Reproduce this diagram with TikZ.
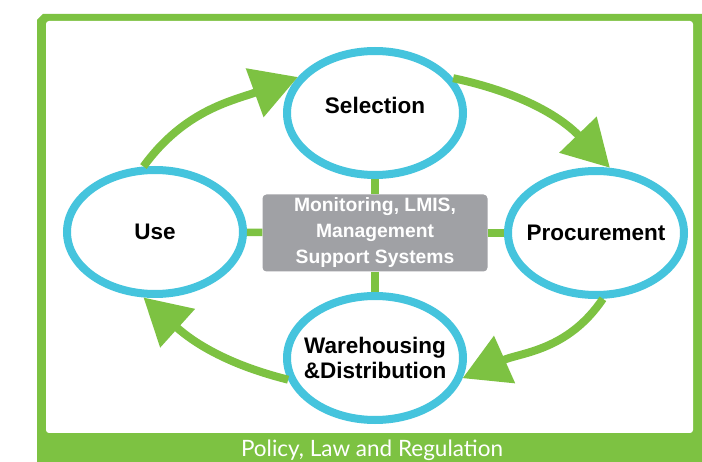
\documentclass[tikz,border=0pt]{standalone}
\usepackage{fontspec}
\setmainfont{Liberation Sans}
\newfontfamily\bandfont{Lato}
\usetikzlibrary{arrows.meta,shapes.geometric}

\definecolor{leaf}{RGB}{125,194,66}
\definecolor{sky}{RGB}{69,196,221}
\definecolor{slate}{RGB}{160,161,165}

\begin{document}
\begin{tikzpicture}[x=1pt, y=1pt, >={Triangle[length=46pt,width=50pt]},
  phase/.style={shape=ellipse, draw=sky, line width=8pt, fill=white,
    minimum width=176pt, minimum height=124pt, inner sep=-10pt, align=center,
    font=\fontsize{22.5}{25}\selectfont\bfseries},
  link/.style={draw=leaf, line width=7.5pt},
  flow/.style={draw=leaf, line width=8pt, ->}]

  \useasboundingbox (0,0) rectangle (702,-462);
  \fill [leaf] (37,-20) -- (43,-14) -- (702,-14) -- (702,-462) -- (37,-462) -- cycle;
  \fill [white, rounded corners=3pt] (46,-21) rectangle (693,-433);

  \node (sel) at (375,-113) [phase, text depth=16pt] {Selection};
  \node (use) at (155,-232) [phase] {Use};
  \node (proc) at (596,-233) [phase] {Procurement};
  \node (ware) at (375,-358) [phase] {Warehousing\\\&Distribution};
  \node (mon) at (375,-233) [shape=rectangle, rounded corners=4pt, fill=slate, text=white,
    minimum width=225pt, minimum height=77pt, inner sep=0pt, align=center,
    font=\fontsize{19.3}{26}\selectfont\bfseries] {Monitoring, LMIS,\\Management\\Support Systems};

  \draw [link] (sel) -- (mon);
  \draw [link] (mon) -- (ware);
  \draw [link] (use) -- (mon);
  \draw [link] (mon) -- (proc);

  \draw [flow] (use.100) to [out=54, in=200] (sel.155);
  \draw [flow] (sel.24) to [out=-12, in=134] (proc.78);
  \draw [flow] (proc.276) to [out=236, in=24] (ware.-13);
  \draw [flow] (ware.194) to [out=166, in=-42] (use.260);

  \node (policy) at (372,-456.5) [anchor=base, text=white, font=\bandfont\fontsize{22.5}{22.5}\selectfont]
    {Policy, Law and Regulation};
\end{tikzpicture}
\end{document}
